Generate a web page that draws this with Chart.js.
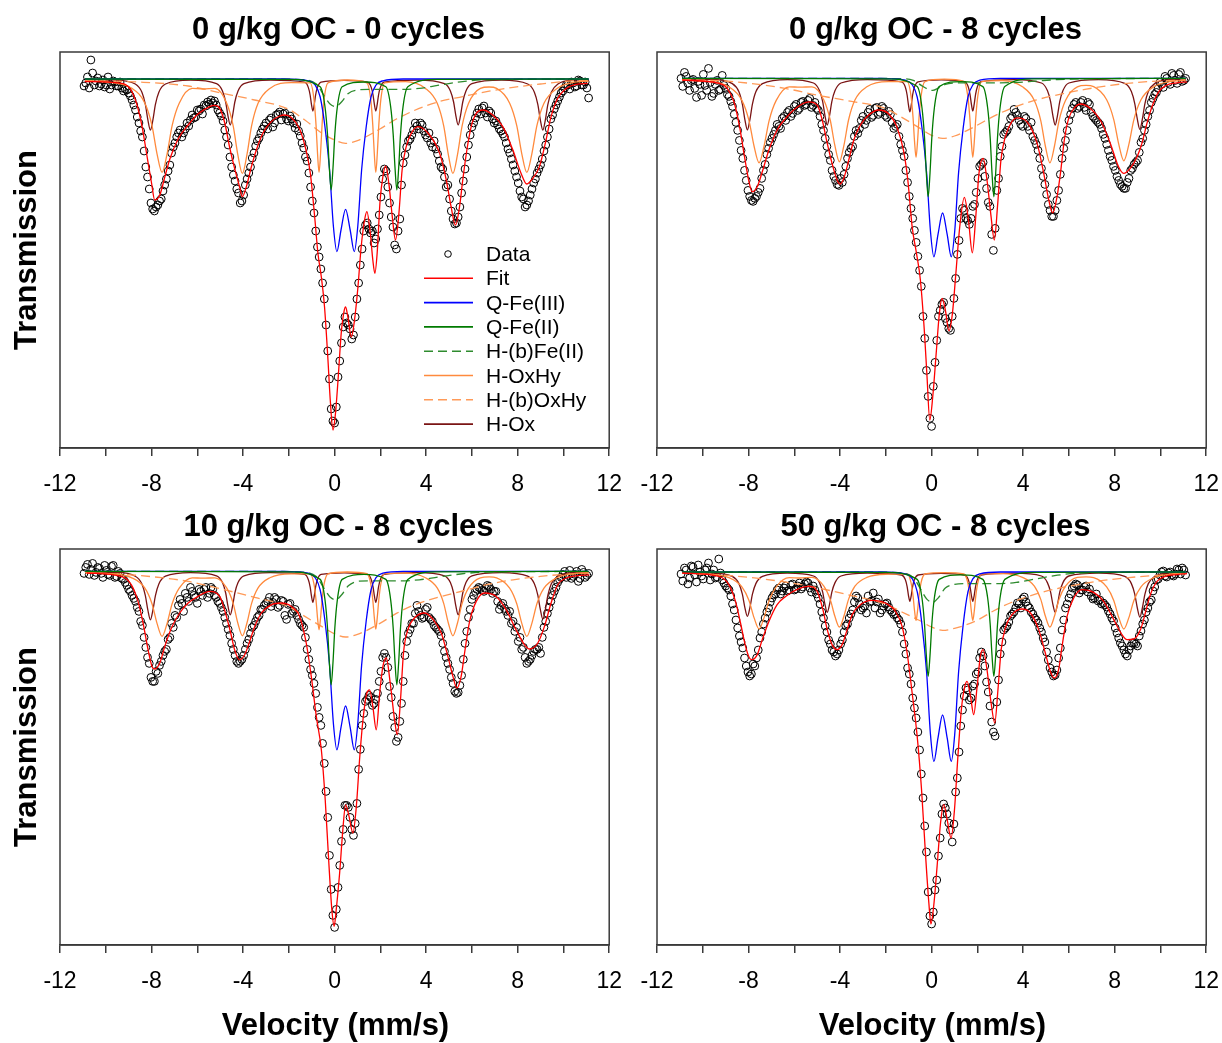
<!DOCTYPE html>
<html><head><meta charset="utf-8">
<script src="https://cdn.jsdelivr.net/npm/chart.js@4.4.1/dist/chart.umd.min.js"></script>
<style>
html,body{margin:0;padding:0;background:#fff;}
body{width:1222px;height:1043px;position:relative;overflow:hidden;font-family:"Liberation Sans",Arial,sans-serif;color:#000;}
canvas{position:absolute;}
.ttl{position:absolute;width:549px;text-align:center;font-weight:bold;font-size:31px;line-height:34px;white-space:nowrap;}
.ylab{position:absolute;width:300px;height:34px;line-height:34px;text-align:center;font-weight:bold;font-size:31px;transform:rotate(-90deg);white-space:nowrap;}
.xlab{position:absolute;width:549px;text-align:center;font-weight:bold;font-size:31px;line-height:34px;white-space:nowrap;}
.leg{position:absolute;font-size:21px;line-height:24px;white-space:nowrap;}
</style>
</head><body>
<canvas id="c0" width="637" height="510" style="left:0;top:0"></canvas>
<canvas id="c1" width="623" height="510" style="left:611px;top:0"></canvas>
<canvas id="c2" width="637" height="510" style="left:0;top:497px"></canvas>
<canvas id="c3" width="623" height="510" style="left:611px;top:497px"></canvas>
<script>
// ---------- labels ----------
const panelTitles = ["0 g/kg OC - 0 cycles","0 g/kg OC - 8 cycles","10 g/kg OC - 8 cycles","50 g/kg OC - 8 cycles"];
const seriesNames = ["Data","Fit","Q-Fe(III)","Q-Fe(II)","H-(b)Fe(II)","H-OxHy","H-(b)OxHy","H-Ox"];
const xTickLabels = [-12,-8,-4,0,4,8,12];
const xAxisTitle = "Velocity (mm/s)";
const yAxisTitle = "Transmission";

// ---------- measured data: velocity channels (mm/s), two interleaved sets ----------
const velocityA = [-10.95,-10.8,-10.65,-10.5,-10.35,-10.2,-10.05,-9.9,-9.75,-9.6,-9.45,-9.3,-9.15,-9.0,-8.85,-8.7,-8.55,-8.4,-8.25,-8.1,-7.95,-7.8,-7.65,-7.5,-7.35,-7.2,-7.05,-6.9,-6.75,-6.6,-6.45,-6.3,-6.15,-6.0,-5.85,-5.7,-5.55,-5.4,-5.25,-5.1,-4.95,-4.8,-4.65,-4.5,-4.35,-4.2,-4.05,-3.9,-3.75,-3.6,-3.45,-3.3,-3.15,-3.0,-2.85,-2.7,-2.55,-2.4,-2.25,-2.1,-1.95,-1.8,-1.65,-1.5,-1.35,-1.2,-1.05,-0.9,-0.75,-0.6,-0.45,-0.3,-0.15,0,0.15,0.3,0.45,0.6,0.75,0.9,1.05,1.2,1.35,1.5,1.65,1.8,1.95,2.1,2.25,2.4,2.55,2.7,2.85,3.0,3.15,3.3,3.45,3.6,3.75,3.9,4.05,4.2,4.35,4.5,4.65,4.8,4.95,5.1,5.25,5.4,5.55,5.7,5.85,6.0,6.15,6.3,6.45,6.6,6.75,6.9,7.05,7.2,7.35,7.5,7.65,7.8,7.95,8.1,8.25,8.4,8.55,8.7,8.85,9.0,9.15,9.3,9.45,9.6,9.75,9.9,10.05,10.2,10.35,10.5,10.65,10.8,10.95,11.1];
const velocityB = [-10.875,-10.725,-10.575,-10.425,-10.275,-10.125,-9.975,-9.825,-9.675,-9.525,-9.375,-9.225,-9.075,-8.925,-8.775,-8.625,-8.475,-8.325,-8.175,-8.025,-7.875,-7.725,-7.575,-7.425,-7.275,-7.125,-6.975,-6.825,-6.675,-6.525,-6.375,-6.225,-6.075,-5.925,-5.775,-5.625,-5.475,-5.325,-5.175,-5.025,-4.875,-4.725,-4.575,-4.425,-4.275,-4.125,-3.975,-3.825,-3.675,-3.525,-3.375,-3.225,-3.075,-2.925,-2.775,-2.625,-2.475,-2.325,-2.175,-2.025,-1.875,-1.725,-1.575,-1.425,-1.275,-1.125,-0.975,-0.825,-0.675,-0.525,-0.375,-0.225,-0.075,0.075,0.225,0.375,0.525,0.675,0.825,0.975,1.125,1.275,1.425,1.575,1.725,1.875,2.025,2.175,2.325,2.475,2.625,2.775,2.925,3.075,3.225,3.375,3.525,3.675,3.825,3.975,4.125,4.275,4.425,4.575,4.725,4.875,5.025,5.175,5.325,5.475,5.625,5.775,5.925,6.075,6.225,6.375,6.525,6.675,6.825,6.975,7.125,7.275,7.425,7.575,7.725,7.875,8.025,8.175,8.325,8.475,8.625,8.775,8.925,9.075,9.225,9.375,9.525,9.675,9.825,9.975,10.125,10.275,10.425,10.575,10.725,10.875,11.025];

// relative transmission (%) of the data points
const dataP1a = [99.65,100.1,100.95,99.7,100.05,99.75,99.6,100.1,99.7,99.85,99.65,99.55,99.5,99.3,98.95,98.45,97.8,97.1,95.6,94.5,93.5,93.6,93.9,94.4,95.0,95.7,96.6,97.1,97.45,97.3,97.8,97.95,98.05,98.45,98.5,98.7,98.85,98.95,98.9,98.45,98.15,97.45,96.7,95.6,94.9,94.3,93.9,94.7,95.3,96.05,96.65,97.05,97.5,97.8,97.95,97.6,98.2,98.35,98.25,98.0,98.15,97.8,97.75,97.15,96.55,95.9,94.6,93.3,91.6,90.5,89.0,86.4,83.5,
82.8,85.1,86.8,88.1,87.7,87.0,88.1,89.8,91.5,92.7,92.5,92.4,92.0,93.2,95.0,95.4,93.8,92.6,91.5,93.0,95.8,96.6,97.0,97.45,97.65,97.8,97.4,97.05,96.8,96.9,96.25,95.6,95.1,94.7,93.4,92.75,93.1,94.3,95.5,96.7,97.6,98.05,98.5,98.55,98.3,98.4,98.0,97.9,97.5,97.25,96.8,96.3,95.7,95.1,94.4,94.0,93.7,94.2,94.8,95.3,95.7,96.4,97.1,98.0,98.5,98.9,99.3,99.55,99.7,99.85,99.6,99.95,99.7,99.85,99.05];
const dataP1b = [99.8,99.55,100.3,99.9,99.65,99.95,99.7,99.5,99.9,99.65,99.85,99.4,99.45,99.15,98.7,98.1,97.4,96.4,95.1,93.8,93.4,93.7,94.0,94.7,95.4,96.3,96.8,97.3,97.1,97.5,97.65,98.2,98.1,98.4,98.25,98.65,98.75,98.8,98.7,98.3,97.9,97.1,96.1,95.2,94.5,93.8,94.2,95.0,95.6,96.3,96.9,97.3,97.65,97.5,98.05,97.8,98.25,97.95,98.3,97.9,98.0,97.55,97.4,96.8,96.1,95.3,93.9,92.4,91.1,89.8,87.7,85.0,82.9,
83.6,85.9,87.6,87.8,87.5,87.2,89.0,90.7,92.4,92.8,92.3,91.8,92.5,94.1,95.5,94.6,93.1,91.7,92.4,94.7,96.2,96.9,97.2,97.8,97.5,97.7,97.2,97.3,96.6,96.5,95.9,95.5,94.6,94.0,93.0,92.8,93.6,94.9,96.1,97.2,97.8,98.3,98.25,98.65,98.1,98.3,97.8,97.7,97.4,97.1,96.5,96.0,95.4,94.8,94.1,93.6,93.9,94.5,95.0,95.5,96.0,96.7,97.5,98.2,98.7,99.1,99.4,99.7,99.5,99.8,99.65,99.9,99.7,99.55];
const dataP2a = [100.0,100.3,99.75,99.9,99.5,99.85,99.15,99.65,100.5,99.1,99.7,99.4,100.15,99.5,99.1,98.6,97.8,96.9,96.0,94.9,94.1,93.85,94.1,94.5,95.4,96.2,96.8,97.2,97.7,97.5,98.1,98.3,98.1,98.6,98.4,98.8,98.65,98.9,98.55,98.8,98.4,97.7,97.0,96.2,95.4,94.9,94.65,94.8,95.6,96.3,96.6,97.4,97.5,98.1,97.9,98.45,98.15,98.55,98.3,98.5,98.05,98.2,97.5,97.7,96.7,96.1,94.8,93.5,92.4,91.1,89.6,87.0,84.1,
82.6,85.8,88.1,88.7,88.0,87.5,88.1,90.0,91.9,93.5,93.0,92.7,93.6,94.3,95.6,95.8,94.5,93.6,91.4,94.4,96.1,97.2,97.4,98.0,98.45,98.15,97.7,98.1,97.6,97.8,96.9,96.4,95.5,94.7,93.7,93.1,93.4,94.4,96.0,96.9,97.9,98.5,98.8,98.6,98.9,98.4,98.7,98.1,97.9,97.7,97.2,96.7,96.1,95.6,95.1,94.7,94.5,94.8,95.4,95.7,95.9,96.8,97.4,98.1,98.8,99.2,99.5,99.7,100.1,99.8,100.25,99.9,100.2,99.85,100.0];
const dataP2b = [99.6,100.1,99.4,99.95,99.05,99.7,100.2,99.4,99.8,99.25,99.9,99.45,99.65,99.2,98.85,98.2,97.4,96.4,95.4,94.4,93.9,94.0,94.3,95.0,95.7,96.5,97.0,97.4,97.6,98.0,97.9,98.4,98.25,98.7,98.5,98.85,98.7,99.0,98.65,98.5,98.1,97.4,96.6,95.9,95.1,94.7,95.0,95.2,96.0,96.5,97.1,97.25,97.9,97.7,98.3,98.05,98.5,98.2,98.6,98.15,98.35,97.8,97.6,97.1,96.4,95.4,94.1,93.0,91.8,90.4,88.1,85.4,83.0,
84.6,86.9,88.4,88.8,87.8,87.4,89.0,91.2,93.0,93.4,92.9,93.0,93.7,95.0,95.7,95.1,93.8,92.2,92.5,95.0,96.6,97.3,97.6,98.1,98.3,97.9,97.6,98.0,97.4,97.1,96.7,96.0,95.1,94.2,93.4,93.1,93.9,95.2,96.5,97.4,98.2,98.7,98.5,98.8,98.55,98.8,98.3,98.0,97.8,97.5,97.0,96.4,95.9,95.4,94.9,94.6,94.5,95.0,95.5,95.8,96.3,97.0,97.7,98.4,99.0,99.3,99.8,99.55,100.0,99.7,100.15,99.75,100.3,99.9];
const dataP3a = [99.9,100.35,100.1,99.8,100.2,99.9,100.3,99.85,100.25,99.7,100.0,99.65,99.45,99.1,98.8,98.5,98.0,97.3,96.2,95.4,94.5,95.0,95.3,95.8,96.1,96.7,97.2,97.7,98.6,98.0,98.7,99.2,98.8,98.4,99.0,99.1,98.7,99.2,98.8,98.5,98.2,97.7,97.1,96.4,95.8,95.4,95.6,96.1,96.6,97.2,97.5,97.8,98.1,98.4,98.7,98.45,98.6,98.3,98.5,97.6,98.4,98.0,97.8,97.4,97.2,96.1,95.1,94.4,93.2,92.3,90.4,87.7,84.1,
82.2,84.2,86.5,88.3,88.2,87.1,87.4,90.1,92.3,93.5,93.8,93.3,93.6,94.5,95.7,95.7,94.25,92.75,91.5,92.5,94.5,96.5,97.1,97.4,98.3,97.8,97.7,98.2,97.6,97.3,97.1,96.8,96.0,95.4,94.7,94.0,93.95,94.8,96.4,97.7,98.6,99.0,99.2,99.05,99.15,99.25,98.9,99.0,98.1,98.4,98.0,98.0,97.5,97.2,96.7,96.2,95.4,95.6,96.0,96.1,95.9,97.2,97.9,98.5,99.0,99.45,99.7,100.0,99.8,99.65,99.85,99.5,100.1,99.7,99.9];
const dataP3b = [100.2,99.85,100.4,99.95,100.15,99.7,100.05,99.8,100.3,99.75,99.9,99.6,99.3,99.0,98.65,98.2,97.5,96.7,95.7,94.7,94.5,94.9,95.5,96.0,96.6,97.4,97.8,98.3,98.4,98.9,98.5,99.0,98.7,99.1,98.8,99.2,98.9,99.1,98.7,98.4,98.0,97.4,96.8,96.1,95.5,95.5,95.8,96.4,96.9,97.3,97.7,98.1,98.3,98.5,98.25,98.7,98.2,98.55,97.8,98.35,97.9,98.1,97.6,97.3,96.7,95.6,94.8,93.9,92.7,91.4,89.0,85.8,82.8,
83.1,85.3,87.1,88.3,87.7,86.8,88.4,91.1,92.9,93.6,93.7,93.4,93.9,95.0,95.9,95.2,93.7,92.2,91.7,93.4,95.8,96.9,97.4,97.9,98.0,97.65,98.1,97.7,97.5,97.2,97.0,96.4,95.7,95.1,94.4,93.9,94.3,95.6,97.0,98.1,98.8,99.1,99.15,99.0,99.3,99.1,99.0,98.5,98.3,98.15,97.8,97.4,97.0,96.5,96.1,95.7,95.5,95.8,96.1,96.2,96.7,97.5,98.2,98.8,99.2,99.6,99.85,99.7,100.05,99.75,100.0,99.65,99.95,99.8];
const dataP4a = [99.9,100.2,99.4,100.3,99.85,100.35,99.8,100.1,100.45,99.9,99.7,100.65,99.6,99.3,99.1,98.4,97.6,96.8,96.2,95.3,94.8,95.4,95.7,96.7,97.4,98.0,98.5,98.85,99.1,98.9,99.2,99.05,99.35,99.1,99.3,99.15,99.4,99.45,99.0,99.1,98.7,98.0,97.3,96.6,96.1,95.8,96.1,96.6,97.3,97.7,98.1,98.8,98.4,98.2,97.95,98.5,98.95,98.5,97.95,98.3,98.45,98.1,97.87,97.7,97.4,96.4,95.2,94.4,93.2,92.0,89.9,87.3,84.0,
82.4,84.1,85.8,87.9,88.2,87.45,86.5,89.0,91.0,93.1,94.2,93.6,94.3,94.9,95.7,95.8,94.5,93.3,92.0,93.5,95.9,97.1,97.3,97.8,98.0,98.45,98.2,98.75,98.3,98.0,97.7,97.45,97.0,96.5,95.6,95.0,94.85,95.7,97.1,98.2,98.7,99.2,99.4,98.95,99.1,99.3,99.15,98.65,98.9,98.6,98.45,98.25,97.9,97.55,96.95,96.45,96.1,95.8,96.3,96.45,96.3,97.05,97.6,98.2,98.6,99.25,99.65,100.0,99.8,99.95,99.85,99.9,100.1,100.2,99.85];
const dataP4b = [99.55,100.1,99.7,100.25,99.5,100.0,99.65,100.2,99.6,100.1,99.75,99.95,99.45,99.2,98.8,98.1,97.2,96.5,95.7,95.0,94.9,95.3,96.1,97.0,97.7,98.2,98.7,98.9,99.2,99.05,99.3,99.1,99.4,99.15,99.45,99.25,99.5,99.2,99.3,98.9,98.4,97.7,97.0,96.4,96.0,95.9,96.4,97.0,97.4,97.9,98.5,98.7,98.1,98.3,98.8,98.55,98.2,98.65,98.1,98.4,98.25,98.0,97.9,97.6,97.0,95.9,94.9,93.7,92.7,91.1,88.7,86.0,82.8,
83.0,84.6,86.7,88.4,87.9,87.1,87.4,89.7,92.3,93.8,94.1,93.7,94.4,95.0,96.0,95.3,94.0,92.5,91.8,94.6,96.5,97.2,97.5,97.9,98.2,98.4,98.65,98.5,98.2,97.9,97.6,97.2,96.7,96.0,95.2,94.8,95.1,96.2,97.6,98.4,98.9,99.3,99.35,99.1,99.25,99.0,98.8,98.7,98.55,98.4,98.35,98.05,97.7,97.2,96.7,96.3,95.9,96.1,96.45,96.4,96.8,97.4,98.0,98.5,99.05,99.6,99.85,100.05,99.75,100.0,99.8,100.15,99.9,100.1];

// ---------- fitted envelope, [velocity, transmission] ----------
const fitP1 = [[-10.92,99.87],[-9.3,99.78],[-8.95,99.53],[-8.66,98.8],[-8.41,97.6],[-8.22,96.3],[-8.0,94.8],[-7.86,93.95],[-7.64,94.2],[-7.42,95.1],[-7.2,96.0],[-6.84,97.0],[-6.4,97.7],[-5.97,98.25],[-5.46,98.62],[-5.24,98.68],[-5.02,98.53],[-4.8,97.8],[-4.59,96.6],[-4.37,95.53],[-4.15,94.6],[-4.03,94.12],[-3.86,94.6],[-3.64,95.6],[-3.42,96.45],[-3.13,97.3],[-2.77,97.87],[-2.4,98.15],[-2.18,98.2],[-1.89,98.08],[-1.53,97.5],[-1.24,96.4],[-1.06,95.28],[-0.87,93.1],[-0.73,91.3],[-0.58,90.1],[-0.44,88.6],[-0.29,85.95],[-0.19,83.95],[-0.07,82.45],[0.04,83.3],[0.15,84.95],[0.29,87.3],[0.41,88.37],[0.48,88.6],[0.58,88.1],[0.73,87.1],[0.87,87.95],[1.02,89.6],[1.16,91.6],[1.31,92.95],[1.41,93.37],[1.56,92.3],[1.67,90.95],[1.76,90.28],[1.86,91.3],[1.99,93.95],[2.11,95.12],[2.23,95.65],[2.37,94.78],[2.52,93.12],[2.66,91.95],[2.81,93.28],[2.95,95.45],[3.13,96.62],[3.35,97.28],[3.64,97.62],[4.15,97.2],[4.59,96.28],[4.88,94.95],[5.09,93.62],[5.28,92.7],[5.46,93.62],[5.6,94.95],[5.78,96.45],[5.97,97.62],[6.19,98.28],[6.48,98.45],[6.91,98.2],[7.35,97.62],[7.79,96.45],[8.15,95.28],[8.4,94.75],[8.66,95.03],[8.95,95.62],[9.24,96.95],[9.46,98.12],[9.75,99.03],[10.12,99.53],[10.55,99.73],[11.06,99.78]];
const fitP2 = [[-10.9,99.92],[-9.29,99.75],[-8.93,99.5],[-8.64,98.83],[-8.39,97.58],[-8.2,96.25],[-7.98,94.83],[-7.84,94.33],[-7.62,94.58],[-7.4,95.33],[-7.11,96.42],[-6.75,97.42],[-6.38,98.0],[-5.95,98.5],[-5.37,98.83],[-5.0,98.67],[-4.78,97.92],[-4.56,96.75],[-4.35,95.75],[-4.13,94.92],[-4.01,94.72],[-3.84,95.0],[-3.62,95.92],[-3.4,96.92],[-3.11,97.67],[-2.75,98.17],[-2.31,98.42],[-1.87,98.22],[-1.51,97.55],[-1.22,96.35],[-1.04,94.92],[-0.85,92.58],[-0.66,91.25],[-0.49,89.92],[-0.31,87.25],[-0.2,85.08],[-0.08,82.92],[0.05,84.08],[0.2,86.25],[0.34,88.25],[0.46,89.0],[0.6,88.42],[0.76,87.38],[0.91,88.25],[1.06,90.25],[1.23,92.58],[1.43,94.05],[1.61,92.92],[1.78,91.28],[1.93,93.08],[2.07,95.25],[2.25,96.0],[2.42,94.92],[2.6,93.08],[2.74,91.92],[2.89,93.75],[3.03,95.92],[3.22,97.08],[3.5,97.83],[3.75,98.03],[4.17,97.83],[4.61,96.75],[4.9,95.25],[5.12,93.92],[5.29,93.28],[5.48,94.08],[5.63,95.25],[5.8,96.92],[5.99,98.0],[6.28,98.58],[6.5,98.72],[6.94,98.5],[7.37,97.92],[7.81,96.75],[8.17,95.58],[8.39,95.25],[8.68,95.5],[8.98,96.08],[9.19,96.75],[9.41,97.75],[9.63,98.58],[9.92,99.33],[10.28,99.67],[10.72,99.78],[11.16,99.83]];
const fitP3 = [[-10.84,99.92],[-9.32,99.75],[-8.88,99.33],[-8.59,98.5],[-8.37,97.42],[-8.15,96.08],[-7.98,95.25],[-7.86,95.12],[-7.64,95.42],[-7.42,96.25],[-7.13,97.17],[-6.77,97.92],[-6.4,98.42],[-5.97,98.75],[-5.46,99.0],[-5.02,98.75],[-4.77,97.92],[-4.54,96.92],[-4.37,96.08],[-4.15,95.58],[-3.93,95.83],[-3.71,96.5],[-3.49,97.25],[-3.2,97.92],[-2.77,98.33],[-2.33,98.42],[-1.89,98.25],[-1.53,97.75],[-1.24,96.42],[-1.02,94.75],[-0.8,92.75],[-0.58,91.08],[-0.41,88.58],[-0.26,85.58],[-0.12,83.08],[-0.02,82.25],[0.07,83.08],[0.22,84.92],[0.36,87.08],[0.48,88.33],[0.63,87.75],[0.8,86.92],[0.95,88.25],[1.09,90.58],[1.24,92.58],[1.41,93.92],[1.53,94.08],[1.67,93.25],[1.82,92.08],[1.97,93.92],[2.11,95.25],[2.26,95.67],[2.43,94.42],[2.62,92.58],[2.74,91.83],[2.88,93.58],[3.01,95.92],[3.2,97.08],[3.49,97.67],[3.93,97.92],[4.29,97.62],[4.66,96.92],[4.95,95.75],[5.17,94.75],[5.34,94.17],[5.53,94.75],[5.68,95.92],[5.9,97.5],[6.19,98.5],[6.55,98.92],[7.06,98.75],[7.5,98.08],[7.93,97.08],[8.3,96.33],[8.52,96.12],[8.88,96.42],[9.17,97.25],[9.46,98.42],[9.75,99.33],[10.12,99.67],[10.55,99.78],[11.14,99.83]];
const fitP4 = [[-10.9,99.95],[-9.29,99.78],[-8.86,99.37],[-8.57,98.53],[-8.35,97.45],[-8.13,96.28],[-7.96,95.7],[-7.84,95.62],[-7.62,95.87],[-7.4,96.62],[-7.11,97.53],[-6.75,98.37],[-6.38,98.78],[-5.8,99.17],[-5.37,99.28],[-5.0,99.03],[-4.75,98.12],[-4.56,97.12],[-4.35,96.37],[-4.13,96.12],[-3.91,96.37],[-3.69,97.12],[-3.47,97.87],[-3.11,98.37],[-2.6,98.58],[-2.02,98.45],[-1.58,98.03],[-1.29,97.28],[-1.07,95.95],[-0.85,93.95],[-0.63,91.78],[-0.44,89.12],[-0.27,85.95],[-0.12,83.45],[-0.03,82.4],[0.09,83.28],[0.24,85.28],[0.39,87.45],[0.53,88.37],[0.68,87.62],[0.85,86.7],[1.0,88.12],[1.14,90.62],[1.3,93.12],[1.45,94.28],[1.55,94.53],[1.7,93.78],[1.84,92.87],[1.99,94.28],[2.13,95.78],[2.25,96.12],[2.42,95.12],[2.6,93.45],[2.76,92.45],[2.9,94.12],[3.04,96.12],[3.22,97.2],[3.52,97.87],[3.95,98.15],[4.32,97.95],[4.68,97.12],[4.97,95.95],[5.19,95.03],[5.36,94.7],[5.55,95.12],[5.7,96.28],[5.92,97.78],[6.21,98.7],[6.57,99.12],[7.08,98.98],[7.52,98.53],[7.96,97.62],[8.32,96.87],[8.54,96.62],[8.83,96.65],[9.13,97.12],[9.34,97.95],[9.56,98.87],[9.85,99.53],[10.21,99.78],[10.72,99.87],[11.16,99.92]];

// ---------- fit components (velocity arrays shared, transmission per sample) ----------
const vQFe3 = [-10.9,-2.2,-1.15,-0.85,-0.63,-0.42,-0.22,-0.05,0.1,0.28,0.48,0.68,0.86,1.01,1.18,1.38,1.59,1.81,2.11,3.0,11.1];
const qfe3P1 = [100,100,99.91,99.7,99.1,97.6,95.45,92.6,91.37,92.45,93.48,92.45,91.37,92.6,95.45,97.6,99.1,99.7,99.91,100,100];
const qfe3P2 = [100,100,99.91,99.69,99.07,97.52,95.3,92.36,91.08,92.2,93.27,92.2,91.08,92.36,95.3,97.52,99.07,99.69,99.91,100,100];
const qfe3P3 = [100,100,99.91,99.69,99.07,97.52,95.3,92.36,91.08,92.2,93.27,92.2,91.08,92.36,95.3,97.52,99.07,99.69,99.91,100,100];
const qfe3P4 = [100,100,99.91,99.67,99.02,97.37,95.01,91.88,90.53,91.71,92.85,91.71,90.53,91.88,95.01,97.37,99.02,99.67,99.91,100,100];

const vQFe2 = [-10.9,-2.0,-0.63,-0.42,-0.31,-0.23,-0.15,-0.07,0.01,0.12,0.33,1.28,2.24,2.45,2.56,2.64,2.72,2.8,2.88,2.99,3.2,4.5,11.1];
const qfe2P1 = [100,99.98,99.61,98.61,97.23,95.56,94.45,95.56,97.23,98.61,99.61,99.85,99.61,98.61,97.23,95.56,94.45,95.56,97.23,98.61,99.61,99.98,100];
const qfe2P2 = [100,99.98,99.59,98.52,97.04,95.26,94.08,95.26,97.04,98.52,99.59,99.84,99.59,98.52,97.04,95.26,94.08,95.26,97.04,98.52,99.59,99.98,100];
const qfe2P3 = [100,99.98,99.6,98.58,97.17,95.46,94.33,95.46,97.17,98.58,99.6,99.85,99.6,98.58,97.17,95.46,94.33,95.46,97.17,98.58,99.6,99.98,100];
const qfe2P4 = [100,99.98,99.63,98.7,97.39,95.82,94.78,95.82,97.39,98.7,99.63,99.86,99.63,98.7,97.39,95.82,94.78,95.82,97.39,98.7,99.63,99.98,100];

const vHbFe2 = [-10.9,-3.0,-1.5,-0.8,-0.45,-0.2,0.05,0.3,0.6,1.0,1.5,2.2,3.0,3.7,4.5,5.5,6.5,11.1];
const hbfe2P1 = [100,100,99.97,99.75,99.15,98.75,98.62,98.85,99.28,99.45,99.48,99.48,99.48,99.53,99.68,99.86,99.96,100];
const hbfe2P2 = [100,100,99.99,99.9,99.65,99.48,99.4,99.52,99.7,99.77,99.78,99.78,99.78,99.8,99.86,99.94,99.98,100];
const hbfe2P3 = [100,100,99.97,99.74,99.13,98.72,98.58,98.82,99.28,99.5,99.53,99.53,99.53,99.58,99.71,99.87,99.96,100];
const hbfe2P4 = [100,100,99.97,99.72,99.08,98.63,98.48,98.72,99.2,99.38,99.42,99.42,99.42,99.48,99.64,99.84,99.95,100];

const vHOxHy = [-10.9,-10.0,-8.86,-8.29,-7.98,-7.76,-7.54,-7.32,-7.1,-6.79,-6.22,-5.75,-5.23,-4.71,-4.43,-4.23,-4.03,-3.83,-3.63,-3.35,-2.83,-1.9,-1.07,-0.9,-0.81,-0.745,-0.68,-0.615,-0.55,-0.46,-0.29,0.56,1.41,1.58,1.67,1.735,1.8,1.865,1.93,2.02,2.19,3.1,3.97,4.49,4.77,4.97,5.17,5.37,5.57,5.85,6.37,6.75,7.08,7.65,7.96,8.18,8.4,8.62,8.84,9.15,9.72,10.4,11.1];
const hoxhyP1 = [99.9,99.85,99.53,98.79,97.67,96.26,95.33,96.26,97.67,98.79,99.53,99.5,99.53,98.77,97.64,96.22,95.28,96.22,97.64,98.77,99.53,99.82,99.81,98.97,97.67,96.26,95.33,96.26,97.67,98.97,99.81,99.95,99.81,98.97,97.67,96.26,95.33,96.26,97.67,98.97,99.81,99.87,99.53,98.77,97.64,96.22,95.28,96.22,97.64,98.77,99.53,99.6,99.53,98.79,97.67,96.26,95.33,96.26,97.67,98.79,99.53,99.82,99.9];
const hoxhyP2 = [99.91,99.87,99.58,98.9,97.89,96.62,95.78,96.62,97.89,98.9,99.58,99.56,99.58,98.92,97.92,96.66,95.83,96.66,97.92,98.92,99.58,99.84,99.84,99.13,98.03,96.84,96.05,96.84,98.03,99.13,99.84,99.96,99.84,99.13,98.03,96.84,96.05,96.84,98.03,99.13,99.84,99.89,99.58,98.9,97.89,96.62,95.78,96.62,97.89,98.9,99.58,99.65,99.59,98.93,97.94,96.7,95.88,96.7,97.94,98.93,99.59,99.84,99.91];
const hoxhyP3 = [99.93,99.9,99.68,99.16,98.38,97.4,96.75,97.4,98.38,99.16,99.68,99.66,99.68,99.16,98.39,97.42,96.78,97.42,98.39,99.16,99.68,99.88,99.88,99.36,98.54,97.66,97.08,97.66,98.54,99.36,99.88,99.97,99.89,99.37,98.56,97.7,97.12,97.7,98.56,99.37,99.89,99.91,99.68,99.16,98.39,97.42,96.78,97.42,98.39,99.16,99.68,99.73,99.68,99.16,98.38,97.4,96.75,97.4,98.38,99.16,99.68,99.88,99.93];
const hoxhyP4 = [99.94,99.91,99.72,99.26,98.58,97.72,97.15,97.72,98.58,99.26,99.72,99.7,99.73,99.29,98.63,97.8,97.25,97.8,98.63,99.29,99.73,99.89,99.9,99.47,98.79,98.06,97.58,98.06,98.79,99.47,99.9,99.97,99.9,99.47,98.79,98.06,97.58,98.06,98.79,99.47,99.9,99.92,99.73,99.29,98.63,97.8,97.25,97.8,98.63,99.29,99.73,99.76,99.72,99.26,98.58,97.72,97.15,97.72,98.58,99.26,99.72,99.89,99.94];

const vHbOxHy = [-10.9,-8.6,-6.4,-4.95,-3.5,-2.03,-1.3,-0.57,0.0,0.48,1.0,1.98,2.7,3.43,4.5,5.6,6.7,7.8,9.0,10.0,11.1];
const hboxhyP1 = [99.92,99.85,99.65,99.3,98.95,98.5,97.95,97.3,96.95,96.78,96.92,97.5,98.0,98.4,98.85,99.12,99.38,99.58,99.75,99.87,99.95];
const hboxhyP2 = [99.95,99.83,99.5,99.15,98.85,98.5,98.05,97.55,97.15,97.0,97.12,97.65,98.1,98.48,98.9,99.2,99.45,99.65,99.8,99.88,99.92];
const hboxhyP3 = [99.95,99.8,99.5,99.12,98.7,98.25,97.75,97.25,96.88,96.72,96.85,97.4,97.9,98.3,98.7,99.02,99.35,99.58,99.75,99.85,99.92];
const hboxhyP4 = [99.95,99.8,99.5,99.2,98.82,98.4,98.0,97.6,97.25,97.08,97.18,97.58,98.05,98.45,98.88,99.2,99.43,99.62,99.76,99.84,99.92];

const vHOx = [-10.9,-9.6,-8.71,-8.42,-8.27,-8.16,-8.05,-7.94,-7.83,-7.68,-7.39,-6.3,-5.16,-4.9,-4.76,-4.66,-4.56,-4.46,-4.36,-4.22,-3.96,-2.8,-1.31,-1.15,-1.07,-1.01,-0.95,-0.89,-0.83,-0.75,-0.59,0.42,1.44,1.6,1.68,1.74,1.8,1.86,1.92,2.0,2.16,3.6,4.8,5.06,5.2,5.3,5.4,5.5,5.6,5.74,6.0,7.3,8.44,8.73,8.88,8.99,9.1,9.21,9.32,9.47,9.76,10.5,11.1];
const hoxP1 = [99.97,99.95,99.75,99.34,98.73,97.96,97.45,97.96,98.73,99.34,99.75,99.94,99.77,99.4,98.85,98.16,97.7,98.16,98.85,99.4,99.77,99.94,99.84,99.58,99.2,98.72,98.4,98.72,99.2,99.58,99.84,99.93,99.84,99.58,99.2,98.72,98.4,98.72,99.2,99.58,99.84,99.94,99.77,99.4,98.85,98.16,97.7,98.16,98.85,99.4,99.77,99.94,99.75,99.34,98.73,97.96,97.45,97.96,98.73,99.34,99.75,99.95,99.97];
const hoxP2 = [99.97,99.95,99.74,99.33,98.71,97.94,97.42,97.94,98.71,99.33,99.74,99.94,99.77,99.39,98.84,98.14,97.67,98.14,98.84,99.39,99.77,99.94,99.83,99.57,99.17,98.66,98.33,98.66,99.17,99.57,99.83,99.93,99.84,99.58,99.19,98.7,98.37,98.7,99.19,99.58,99.84,99.94,99.77,99.39,98.84,98.14,97.67,98.14,98.84,99.39,99.77,99.94,99.75,99.34,98.73,97.96,97.45,97.96,98.73,99.34,99.75,99.95,99.97];
const hoxP3 = [99.97,99.95,99.76,99.37,98.79,98.06,97.58,98.06,98.79,99.37,99.76,99.94,99.78,99.44,98.92,98.26,97.83,98.26,98.92,99.44,99.78,99.94,99.85,99.6,99.23,98.76,98.45,98.76,99.23,99.6,99.85,99.93,99.85,99.6,99.23,98.76,98.45,98.76,99.23,99.6,99.85,99.94,99.78,99.44,98.92,98.26,97.83,98.26,98.92,99.44,99.78,99.94,99.76,99.38,98.81,98.1,97.62,98.1,98.81,99.38,99.76,99.95,99.97];
const hoxP4 = [99.97,99.95,99.78,99.42,98.89,98.22,97.78,98.22,98.89,99.42,99.78,99.94,99.8,99.47,98.99,98.38,97.98,98.38,98.99,99.47,99.8,99.94,99.85,99.62,99.27,98.82,98.53,98.82,99.27,99.62,99.85,99.93,99.85,99.62,99.27,98.82,98.53,98.82,99.27,99.62,99.85,99.94,99.8,99.47,98.99,98.38,97.98,98.38,98.99,99.47,99.8,99.94,99.78,99.42,98.88,98.2,97.75,98.2,98.88,99.42,99.78,99.95,99.97];

// ---------- styles & layout ----------
const COL = {data:'#000000', fit:'#ff0000', qfe3:'#0000ff', qfe2:'#007a00', hbfe2:'#2e8b2e', hoxhy:'#ff8a3d', hboxhy:'#ff9a58', hox:'#7a1414'};
const DASH = [9,5];
const FONT = '"Liberation Sans", Arial, sans-serif';

const panels = [
  {canvas:'c0', title:panelTitles[0], dataA:dataP1a, dataB:dataP1b, fit:fitP1, qfe3:qfe3P1, qfe2:qfe2P1, hbfe2:hbfe2P1, hoxhy:hoxhyP1, hboxhy:hboxhyP1, hox:hoxP1, yMin:81.55, yMax:101.35, padL:60, boxL:60, boxT:52, xTitle:false},
  {canvas:'c1', title:panelTitles[1], dataA:dataP2a, dataB:dataP2b, fit:fitP2, qfe3:qfe3P2, qfe2:qfe2P2, hbfe2:hbfe2P2, hoxhy:hoxhyP2, hboxhy:hboxhyP2, hox:hoxP2, yMin:81.52, yMax:101.32, padL:46, boxL:657, boxT:52, xTitle:false},
  {canvas:'c2', title:panelTitles[2], dataA:dataP3a, dataB:dataP3b, fit:fitP3, qfe3:qfe3P3, qfe2:qfe2P3, hbfe2:hbfe2P3, hoxhy:hoxhyP3, hboxhy:hboxhyP3, hox:hoxP3, yMin:81.32, yMax:101.12, padL:60, boxL:60, boxT:549, xTitle:true},
  {canvas:'c3', title:panelTitles[3], dataA:dataP4a, dataB:dataP4b, fit:fitP4, qfe3:qfe3P4, qfe2:qfe2P4, hbfe2:hbfe2P4, hoxhy:hoxhyP4, hboxhy:hboxhyP4, hox:hoxP4, yMin:81.35, yMax:101.15, padL:46, boxL:657, boxT:549, xTitle:true}
];

const zip = (xs, ys) => xs.map((x, i) => ({x: x, y: ys[i]}));
const pairs = (arr) => arr.map(p => ({x: p[0], y: p[1]}));

const boxPlugin = {
  id: 'box',
  afterDraw(chart) {
    const a = chart.chartArea, ctx = chart.ctx;
    ctx.save();
    ctx.strokeStyle = '#3a3a3a';
    ctx.lineWidth = 1.5;
    ctx.strokeRect(a.left, a.top, a.right - a.left, a.bottom - a.top);
    ctx.restore();
  }
};

function lineDs(label, pts, color, dash, order) {
  return {type:'line', label:label, data:pts, borderColor:color, backgroundColor:color, borderWidth:1.3,
          borderDash: dash || [], pointRadius:0, pointHoverRadius:0, fill:false,
          cubicInterpolationMode:'monotone', order:order};
}
function pointDs(pts) {
  return {type:'line', label:seriesNames[0], data:pts, showLine:false, pointRadius:3.9,
          pointBorderWidth:1, pointBorderColor:COL.data, pointBackgroundColor:'rgba(0,0,0,0)', order:9};
}

panels.forEach(p => {
  const datasets = [
    pointDs(zip(velocityA, p.dataA)),
    pointDs(zip(velocityB, p.dataB)),
    lineDs(seriesNames[7], zip(vHOx, p.hox), COL.hox, null, 7),
    lineDs(seriesNames[6], zip(vHbOxHy, p.hboxhy), COL.hboxhy, DASH, 6),
    lineDs(seriesNames[5], zip(vHOxHy, p.hoxhy), COL.hoxhy, null, 5),
    lineDs(seriesNames[4], zip(vHbFe2, p.hbfe2), COL.hbfe2, DASH, 4),
    lineDs(seriesNames[2], zip(vQFe3, p.qfe3), COL.qfe3, null, 3),
    lineDs(seriesNames[3], zip(vQFe2, p.qfe2), COL.qfe2, null, 2),
    lineDs(seriesNames[1], pairs(p.fit), COL.fit, null, 1)
  ];
  new Chart(document.getElementById(p.canvas), {
    type: 'line',
    data: {datasets: datasets},
    plugins: [boxPlugin],
    options: {
      responsive:false, animation:false, devicePixelRatio:1,
      layout:{padding:{left:p.padL, right:0, top:52, bottom:12}},
      plugins:{legend:{display:false}, tooltip:{enabled:false}, title:{display:false}},
      scales:{
        x:{type:'linear', min:-12, max:12,
           afterFit:(s) => { s.height = 50; },
           ticks:{stepSize:2, autoSkip:false, maxRotation:0, padding:15, color:'#000',
                  font:{family:FONT, size:23},
                  callback:(v) => xTickLabels.includes(v) ? String(v) : ''},
           grid:{drawOnChartArea:false, drawTicks:true, tickLength:8, color:'#3a3a3a', lineWidth:1.5},
           border:{display:true, color:'#3a3a3a', width:1.5}},
        y:{display:false, min:p.yMin, max:p.yMax}
      }
    }
  });

  const t = document.createElement('div');
  t.className = 'ttl';
  t.textContent = p.title;
  t.style.left = (p.boxL + 4) + 'px';
  t.style.top = (p.boxT - 40) + 'px';
  document.body.appendChild(t);

  if (p.xTitle) {
    const xl = document.createElement('div');
    xl.className = 'xlab';
    xl.textContent = xAxisTitle;
    xl.style.left = (p.boxL + 1) + 'px';
    xl.style.top = '1008px';
    document.body.appendChild(xl);
  }
});

[250, 747].forEach(cy => {
  const d = document.createElement('div');
  d.className = 'ylab';
  d.textContent = yAxisTitle;
  d.style.left = (25.5 - 150) + 'px';
  d.style.top = (cy - 17) + 'px';
  document.body.appendChild(d);
});

// legend (first panel)
(function () {
  const rowY0 = 254, rowStep = 24.3;
  const styles = [
    {kind:'pt'},
    {c:COL.fit}, {c:COL.qfe3}, {c:COL.qfe2}, {c:COL.hbfe2, dash:true},
    {c:COL.hoxhy}, {c:COL.hboxhy, dash:true}, {c:COL.hox}
  ];
  const NS = 'http://www.w3.org/2000/svg';
  const svg = document.createElementNS(NS, 'svg');
  svg.setAttribute('width', '70'); svg.setAttribute('height', '200');
  svg.style.position = 'absolute'; svg.style.left = '415px'; svg.style.top = '240px';
  seriesNames.forEach((name, i) => {
    const cy = rowY0 + i * rowStep;
    const st = styles[i];
    if (st.kind === 'pt') {
      const c = document.createElementNS(NS, 'circle');
      c.setAttribute('cx', 448 - 415); c.setAttribute('cy', cy - 240); c.setAttribute('r', 3.3);
      c.setAttribute('fill', 'none'); c.setAttribute('stroke', '#000'); c.setAttribute('stroke-width', '1');
      svg.appendChild(c);
    } else {
      const l = document.createElementNS(NS, 'line');
      l.setAttribute('x1', 424 - 415); l.setAttribute('x2', 473 - 415);
      l.setAttribute('y1', cy - 240); l.setAttribute('y2', cy - 240);
      l.setAttribute('stroke', st.c); l.setAttribute('stroke-width', '1.6');
      if (st.dash) l.setAttribute('stroke-dasharray', '9,5');
      svg.appendChild(l);
    }
    const d = document.createElement('div');
    d.className = 'leg';
    d.textContent = name;
    d.style.left = '486px';
    d.style.top = (cy - 12) + 'px';
    document.body.appendChild(d);
  });
  document.body.appendChild(svg);
})();
</script>
</body></html>
